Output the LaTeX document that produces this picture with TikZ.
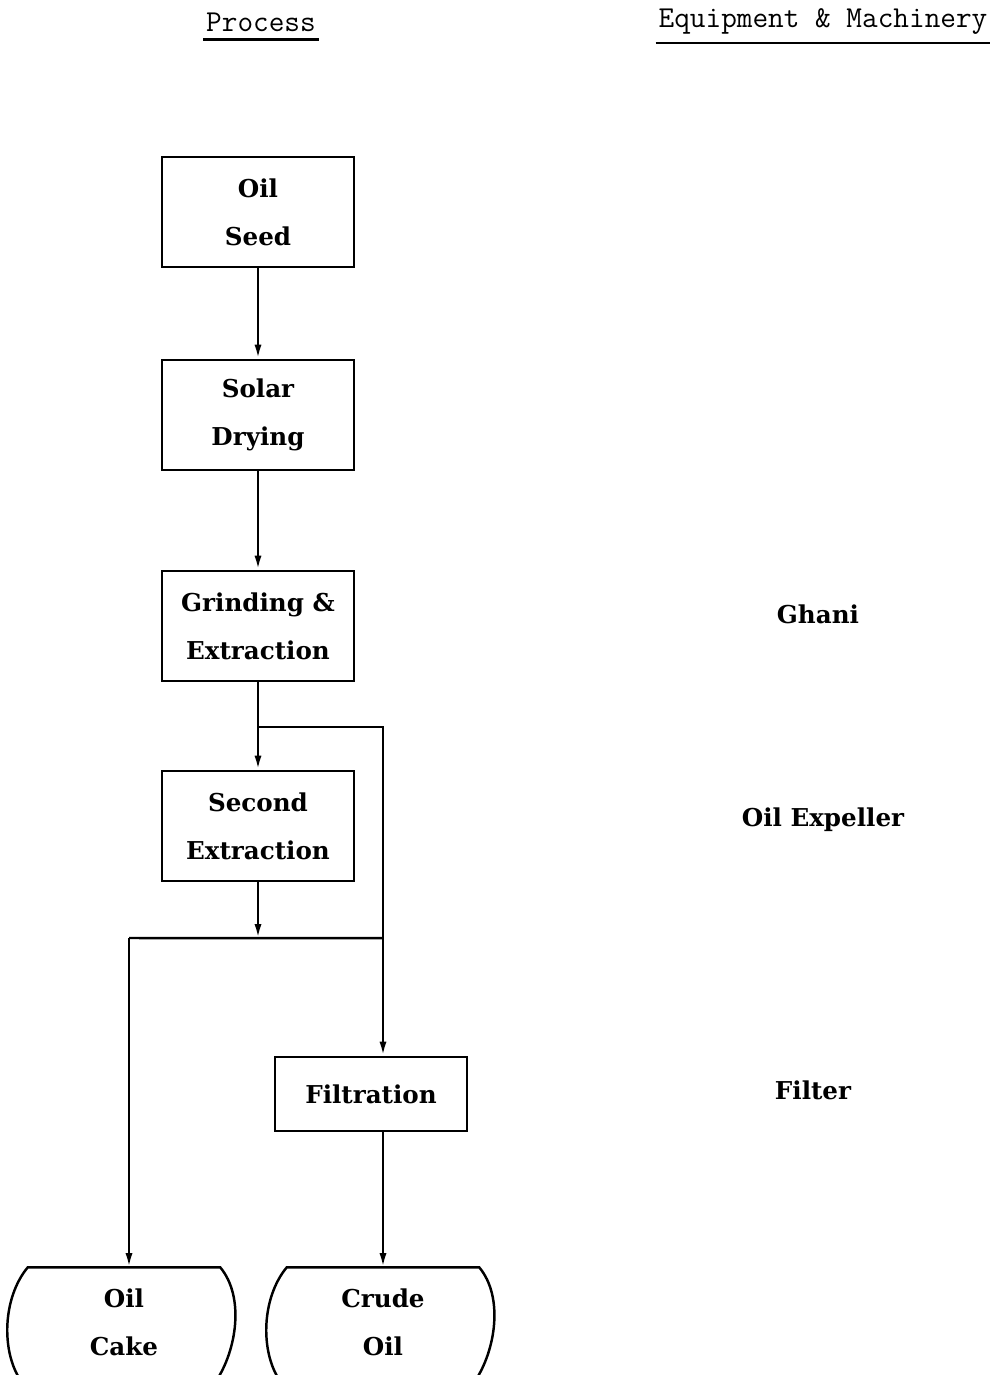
\documentclass[tikz,border=0pt]{standalone}
\usepackage{fontspec}
\newfontfamily\stepfont{DejaVu Serif}
\usetikzlibrary{arrows.meta,calc}

\begin{document}
\begin{tikzpicture}[x=0.02cm,y=-0.02cm,line width=1.4pt,
    procbox/.style={draw, minimum width=3.84cm, minimum height=2.2cm,
      align=center, font=\stepfont\bfseries\fontsize{14}{27.5}\selectfont},
    tankbox/.style={minimum width=3.8cm, minimum height=2.14cm,
      align=center, font=\stepfont\bfseries\fontsize{14}{27.5}\selectfont},
    equip/.style={font=\stepfont\bfseries\fontsize{14}{16}\selectfont},
    colhead/.style={inner sep=1pt, font=\ttfamily\fontsize{17.3}{20}\selectfont},
    flow/.style={-{Latex[length=8pt,width=4pt]}}]
    \useasboundingbox (0,0) rectangle (997,1375);

    % column headings
    \node[colhead] (prochead) at (261,22) {Process};
    \node[colhead] (eqhead) at (823,22) {Equipment \& Machinery};
    \draw ([yshift=-3pt]prochead.south west) -- ([yshift=-3pt]prochead.south east);
    \draw ([yshift=-3pt]eqhead.south west) -- ([yshift=-3pt]eqhead.south east);

    % process steps
    \node[procbox] (seed) at (258,212) {Oil\\Seed};
    \node[procbox] (solar) at (258,415) {Solar\\Drying};
    \node[procbox] (grind) at (258,626) {Grinding \&\\Extraction};
    \node[procbox] (second) at (258,826) {Second\\Extraction};
    \node[procbox, minimum height=1.48cm] (filt) at (371,1094) {Filtration};
    \node[tankbox] (cake) at (124,1322) {Oil\\Cake};
    \node[tankbox] (crude) at (383,1322) {Crude\\Oil};

    % equipment
    \node[equip] (ghani) at (818,614) {Ghani};
    \node[equip] (expeller) at (823,820) {Oil Expeller};
    \node[equip] (filter) at (813,1090) {Filter};

    % tanks
    \begin{scope}
      \clip (0,0) rectangle (997,1375);
      \foreach \t in {cake,crude}
        \draw ($(\t.south west)+(-7,4)$) .. controls +(-20,-30) and +(-25,30) .. (\t.north west)
          -- (\t.north east) .. controls +(25,30) and +(20,-30) .. ($(\t.south east)+(-4,4)$);
    \end{scope}

    % connectors
    \draw[flow] (seed) -- (solar);
    \draw[flow] (solar) -- (grind);
    \draw[flow] (grind) -- (second);
    \coordinate (branch) at ($(grind.south)+(0,45)$);
    \draw[flow] (branch) -| (filt.north -| crude.north);
    \coordinate (merge) at ($(second.south)+(0,56)$);
    \draw[flow] (second) -- (merge);
    \coordinate (drop) at (129,938);
    \draw (drop) -- (merge -| crude.north);
    \draw[flow] (drop) -- (cake.north -| drop);
    \draw[flow] (filt.south -| crude.north) -- (crude.north);
  \end{tikzpicture}
\end{document}
